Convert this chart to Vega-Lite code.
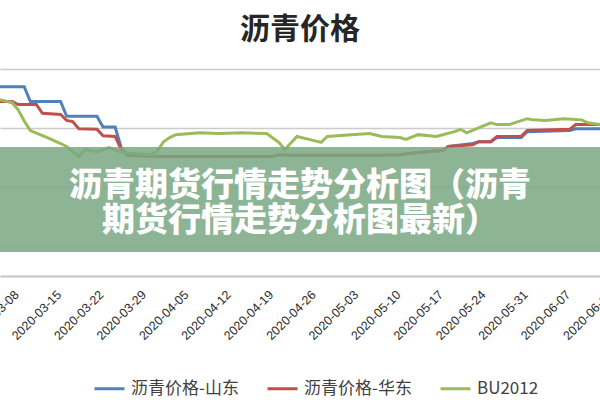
{
  "$schema": "https://vega.github.io/schema/vega-lite/v6.json",
  "width": 600,
  "height": 207,
  "autosize": {"type": "none"},
  "padding": {"top": 69, "left": 0, "right": 0, "bottom": 124},
  "background": "white",
  "title": {"text": "沥青价格", "fontSize": 30, "font": "Noto Sans CJK SC", "fontWeight": "bold", "color": "#262626", "anchor": "middle", "offset": 24},
  "config": {"view": {"stroke": null}},
  "datasets": {
    "prices": [
      {"date": "2020-03-06", "series": "沥青价格-山东", "price": 3200},
      {"date": "2020-03-10", "series": "沥青价格-山东", "price": 3200},
      {"date": "2020-03-11", "series": "沥青价格-山东", "price": 2950},
      {"date": "2020-03-16", "series": "沥青价格-山东", "price": 2950},
      {"date": "2020-03-17", "series": "沥青价格-山东", "price": 2700},
      {"date": "2020-03-22", "series": "沥青价格-山东", "price": 2700},
      {"date": "2020-03-23", "series": "沥青价格-山东", "price": 2520},
      {"date": "2020-03-25", "series": "沥青价格-山东", "price": 2520},
      {"date": "2020-03-26", "series": "沥青价格-山东", "price": 2170},
      {"date": "2020-03-27", "series": "沥青价格-山东", "price": 2040},
      {"date": "2020-04-01", "series": "沥青价格-山东", "price": 2020},
      {"date": "2020-04-20", "series": "沥青价格-山东", "price": 2020},
      {"date": "2020-04-21", "series": "沥青价格-山东", "price": 2050},
      {"date": "2020-04-23", "series": "沥青价格-山东", "price": 2040},
      {"date": "2020-05-08", "series": "沥青价格-山东", "price": 2040},
      {"date": "2020-05-11", "series": "沥青价格-山东", "price": 2050},
      {"date": "2020-05-14", "series": "沥青价格-山东", "price": 2090},
      {"date": "2020-05-18", "series": "沥青价格-山东", "price": 2120},
      {"date": "2020-05-19", "series": "沥青价格-山东", "price": 2190},
      {"date": "2020-05-23", "series": "沥青价格-山东", "price": 2240},
      {"date": "2020-05-24", "series": "沥青价格-山东", "price": 2270},
      {"date": "2020-05-26", "series": "沥青价格-山东", "price": 2270},
      {"date": "2020-05-27", "series": "沥青价格-山东", "price": 2340},
      {"date": "2020-05-31", "series": "沥青价格-山东", "price": 2340},
      {"date": "2020-06-01", "series": "沥青价格-山东", "price": 2440},
      {"date": "2020-06-08", "series": "沥青价格-山东", "price": 2460},
      {"date": "2020-06-09", "series": "沥青价格-山东", "price": 2490},
      {"date": "2020-06-14", "series": "沥青价格-山东", "price": 2490},
      {"date": "2020-03-06", "series": "沥青价格-华东", "price": 2950},
      {"date": "2020-03-08", "series": "沥青价格-华东", "price": 2950},
      {"date": "2020-03-09", "series": "沥青价格-华东", "price": 2900},
      {"date": "2020-03-12", "series": "沥青价格-华东", "price": 2900},
      {"date": "2020-03-13", "series": "沥青价格-华东", "price": 2750},
      {"date": "2020-03-16", "series": "沥青价格-华东", "price": 2730},
      {"date": "2020-03-17", "series": "沥青价格-华东", "price": 2630},
      {"date": "2020-03-18", "series": "沥青价格-华东", "price": 2610},
      {"date": "2020-03-19", "series": "沥青价格-华东", "price": 2490},
      {"date": "2020-03-22", "series": "沥青价格-华东", "price": 2480},
      {"date": "2020-03-23", "series": "沥青价格-华东", "price": 2370},
      {"date": "2020-03-25", "series": "沥青价格-华东", "price": 2360},
      {"date": "2020-03-26", "series": "沥青价格-华东", "price": 2140},
      {"date": "2020-03-27", "series": "沥青价格-华东", "price": 2040},
      {"date": "2020-04-01", "series": "沥青价格-华东", "price": 2020},
      {"date": "2020-04-20", "series": "沥青价格-华东", "price": 2020},
      {"date": "2020-04-21", "series": "沥青价格-华东", "price": 2050},
      {"date": "2020-04-23", "series": "沥青价格-华东", "price": 2040},
      {"date": "2020-05-08", "series": "沥青价格-华东", "price": 2040},
      {"date": "2020-05-11", "series": "沥青价格-华东", "price": 2050},
      {"date": "2020-05-14", "series": "沥青价格-华东", "price": 2090},
      {"date": "2020-05-18", "series": "沥青价格-华东", "price": 2120},
      {"date": "2020-05-19", "series": "沥青价格-华东", "price": 2190},
      {"date": "2020-05-23", "series": "沥青价格-华东", "price": 2220},
      {"date": "2020-05-24", "series": "沥青价格-华东", "price": 2270},
      {"date": "2020-05-26", "series": "沥青价格-华东", "price": 2270},
      {"date": "2020-05-27", "series": "沥青价格-华东", "price": 2360},
      {"date": "2020-05-31", "series": "沥青价格-华东", "price": 2360},
      {"date": "2020-06-01", "series": "沥青价格-华东", "price": 2460},
      {"date": "2020-06-08", "series": "沥青价格-华东", "price": 2480},
      {"date": "2020-06-09", "series": "沥青价格-华东", "price": 2560},
      {"date": "2020-06-14", "series": "沥青价格-华东", "price": 2560},
      {"date": "2020-03-06", "series": "BU2012", "price": 2980},
      {"date": "2020-03-08", "series": "BU2012", "price": 2930},
      {"date": "2020-03-09", "series": "BU2012", "price": 2810},
      {"date": "2020-03-10", "series": "BU2012", "price": 2620},
      {"date": "2020-03-11", "series": "BU2012", "price": 2460},
      {"date": "2020-03-14", "series": "BU2012", "price": 2330},
      {"date": "2020-03-16", "series": "BU2012", "price": 2240},
      {"date": "2020-03-17", "series": "BU2012", "price": 2190},
      {"date": "2020-03-19", "series": "BU2012", "price": 2020},
      {"date": "2020-03-20", "series": "BU2012", "price": 2140},
      {"date": "2020-03-22", "series": "BU2012", "price": 2100},
      {"date": "2020-03-24", "series": "BU2012", "price": 2170},
      {"date": "2020-03-26", "series": "BU2012", "price": 2090},
      {"date": "2020-03-31", "series": "BU2012", "price": 2050},
      {"date": "2020-04-01", "series": "BU2012", "price": 2120},
      {"date": "2020-04-02", "series": "BU2012", "price": 2270},
      {"date": "2020-04-03", "series": "BU2012", "price": 2340},
      {"date": "2020-04-04", "series": "BU2012", "price": 2390},
      {"date": "2020-04-08", "series": "BU2012", "price": 2420},
      {"date": "2020-04-11", "series": "BU2012", "price": 2410},
      {"date": "2020-04-15", "series": "BU2012", "price": 2420},
      {"date": "2020-04-19", "series": "BU2012", "price": 2410},
      {"date": "2020-04-21", "series": "BU2012", "price": 2260},
      {"date": "2020-04-22", "series": "BU2012", "price": 2140},
      {"date": "2020-04-24", "series": "BU2012", "price": 2360},
      {"date": "2020-04-26", "series": "BU2012", "price": 2310},
      {"date": "2020-04-28", "series": "BU2012", "price": 2260},
      {"date": "2020-04-29", "series": "BU2012", "price": 2360},
      {"date": "2020-05-03", "series": "BU2012", "price": 2390},
      {"date": "2020-05-06", "series": "BU2012", "price": 2410},
      {"date": "2020-05-08", "series": "BU2012", "price": 2360},
      {"date": "2020-05-11", "series": "BU2012", "price": 2340},
      {"date": "2020-05-12", "series": "BU2012", "price": 2310},
      {"date": "2020-05-14", "series": "BU2012", "price": 2390},
      {"date": "2020-05-17", "series": "BU2012", "price": 2360},
      {"date": "2020-05-20", "series": "BU2012", "price": 2440},
      {"date": "2020-05-21", "series": "BU2012", "price": 2480},
      {"date": "2020-05-22", "series": "BU2012", "price": 2420},
      {"date": "2020-05-26", "series": "BU2012", "price": 2590},
      {"date": "2020-05-27", "series": "BU2012", "price": 2560},
      {"date": "2020-05-29", "series": "BU2012", "price": 2560},
      {"date": "2020-06-01", "series": "BU2012", "price": 2660},
      {"date": "2020-06-02", "series": "BU2012", "price": 2640},
      {"date": "2020-06-04", "series": "BU2012", "price": 2630},
      {"date": "2020-06-07", "series": "BU2012", "price": 2660},
      {"date": "2020-06-10", "series": "BU2012", "price": 2640},
      {"date": "2020-06-11", "series": "BU2012", "price": 2590},
      {"date": "2020-06-13", "series": "BU2012", "price": 2560},
      {"date": "2020-06-14", "series": "BU2012", "price": 2560}
    ]
  },
  "layer": [
    {
      "data": {"name": "prices", "format": {"parse": {"date": "date:'%Y-%m-%d'"}}},
      "mark": {"type": "line", "strokeWidth": 3, "clip": true},
      "encoding": {
        "x": {
          "field": "date", "type": "temporal",
          "scale": {"domain": [{"year": 2020, "month": 3, "date": 6}, {"year": 2020, "month": 6, "date": 14}], "range": [0, 606]},
          "axis": {
            "title": null,
            "values": [
              {"year": 2020, "month": 3, "date": 8}, {"year": 2020, "month": 3, "date": 15}, {"year": 2020, "month": 3, "date": 22}, {"year": 2020, "month": 3, "date": 29},
              {"year": 2020, "month": 4, "date": 5}, {"year": 2020, "month": 4, "date": 12}, {"year": 2020, "month": 4, "date": 19}, {"year": 2020, "month": 4, "date": 26},
              {"year": 2020, "month": 5, "date": 3}, {"year": 2020, "month": 5, "date": 10}, {"year": 2020, "month": 5, "date": 17}, {"year": 2020, "month": 5, "date": 24},
              {"year": 2020, "month": 5, "date": 31}, {"year": 2020, "month": 6, "date": 7}, {"year": 2020, "month": 6, "date": 14}
            ],
            "format": "%Y-%m-%d",
            "labelAngle": -45,
            "labelFontSize": 12.5,
            "labelFont": "Liberation Sans",
            "labelColor": "#2b2b2b",
            "labelPadding": 12,
            "labelOverlap": false,
            "labelBound": false,
            "labelFlush": false,
            "ticks": false,
            "grid": false,
            "domainColor": "#c4c4c4",
            "domainWidth": 2
          }
        },
        "y": {
          "field": "price", "type": "quantitative",
          "scale": {"domain": [0, 3500], "nice": false},
          "axis": {"title": null, "labels": false, "ticks": false, "domain": false, "grid": true, "gridColor": "#cccccc", "gridWidth": 1.5, "values": [500, 1000, 1500, 2000, 2500, 3000, 3500]}
        },
        "color": {
          "field": "series", "type": "nominal",
          "scale": {"domain": ["沥青价格-山东", "沥青价格-华东", "BU2012"], "range": ["#4f81bd", "#c0504d", "#9bbb59"]},
          "legend": {
            "title": null, "orient": "none", "legendX": 93, "legendY": 303, "direction": "horizontal",
            "symbolType": "stroke", "symbolSize": 900, "symbolStrokeWidth": 3,
            "labelFontSize": 17, "labelFont": "Noto Sans CJK SC", "labelColor": "#404040",
            "columnPadding": 22, "labelOffset": 5, "padding": 0, "labelLimit": 0
          }
        }
      }
    },
    {
      "data": {"values": [{}]},
      "mark": {"type": "rect", "color": "#79a883", "opacity": 0.85},
      "encoding": {
        "y": {"datum": 2181, "type": "quantitative"},
        "y2": {"datum": 406}
      }
    },
    {
      "data": {"values": [{}]},
      "mark": {"type": "text", "text": ["沥青期货行情走势分析图（沥青", "期货行情走势分析图最新）"], "font": "Noto Sans CJK SC", "fontSize": 33, "fontWeight": 900, "color": "white", "lineHeight": 35, "align": "center", "baseline": "middle"},
      "encoding": {
        "y": {"datum": 1530, "type": "quantitative"}
      }
    }
  ]
}
